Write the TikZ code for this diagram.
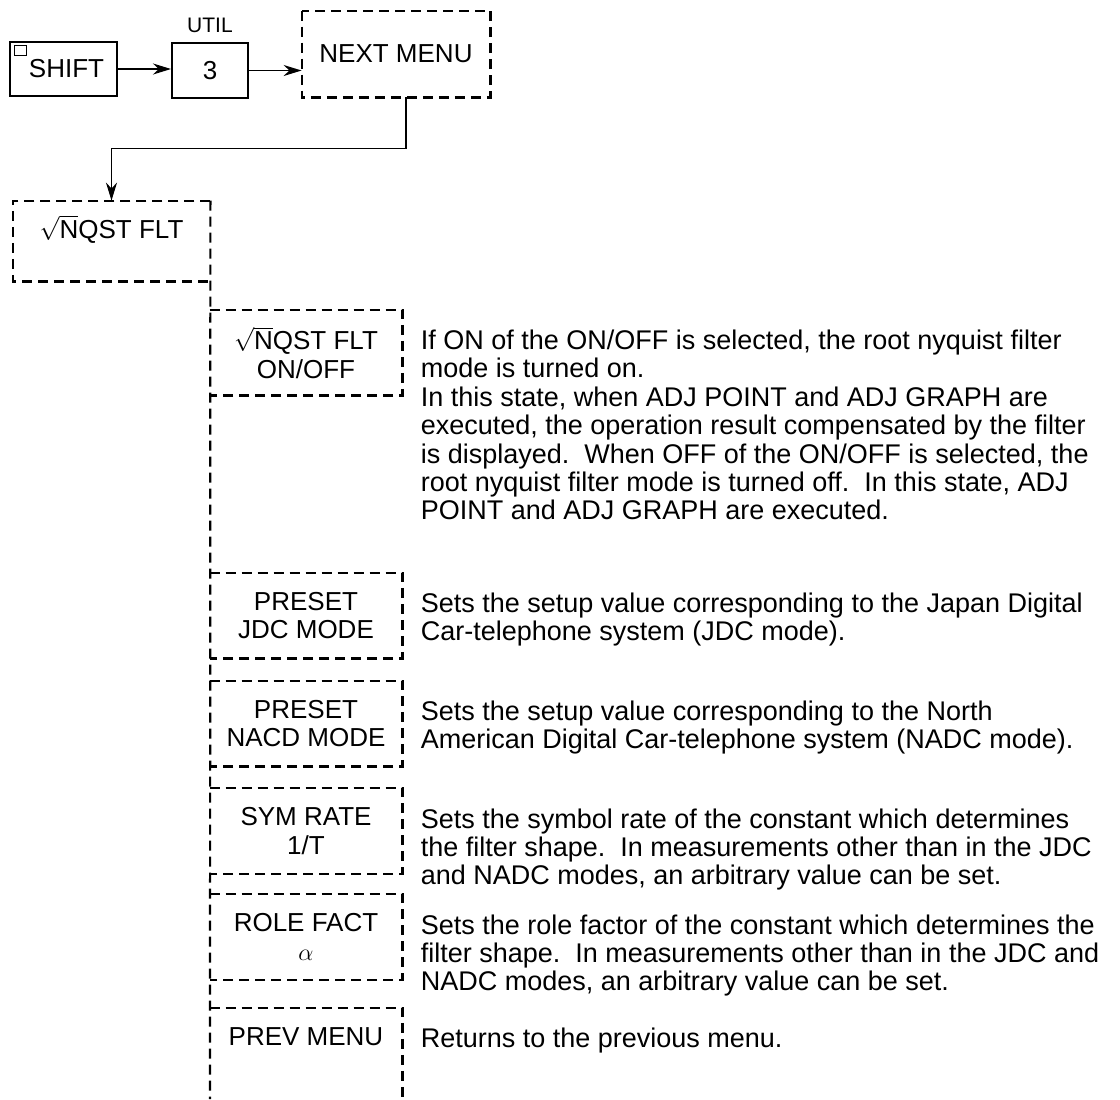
\documentclass[tikz,border=0pt]{standalone}
\usepackage{fontspec}
\setmainfont{Liberation Sans}
\usetikzlibrary{arrows.meta,calc,positioning}
\tikzset{
  keybox/.style={draw, line width=1pt, inner sep=0pt, minimum height=27pt},
  menu/.style={inner sep=0pt, minimum width=96pt, minimum height=42.5pt, align=center},
  dbox/.style={dash pattern=on 5pt off 3pt, line width=1.1pt},
  desc/.style={align=left, inner sep=0pt, anchor=north west, font=\fontsize{13.5}{14.2}\selectfont},
  arr/.style={-{Stealth[length=9pt,width=5.5pt]}, line width=0.9pt}
}
\newcommand{\rootmark}{$\sqrt{\mbox{N}}$}
\begin{document}
\begin{tikzpicture}[x=0.5pt,y=-0.5pt,font=\fontsize{13}{14.2}\selectfont]
\useasboundingbox (0,0) rectangle (1120,1099);
\coordinate (bot) at (210,1099);
% key sequence
\node[keybox, line width=1.4pt, minimum width=53.5pt] (shift) at (63.5,69) {\hspace*{3pt}SHIFT};
\draw[line width=0.7pt] ([xshift=3pt,yshift=-2.5pt]shift.north west) rectangle ++(12,10);
\node[keybox, minimum width=38pt, minimum height=27.5pt] (key3) at (210,70.5) {3};
\node[above=1pt of key3, font=\fontsize{10.5}{12}\selectfont] (util) {UTIL};
\node[menu, minimum width=94pt, minimum height=43pt] (next) at (396,54) {NEXT MENU};
\draw[dbox] (next.north west) rectangle (next.south east);
\draw[arr] (shift.east) -- (shift.east -| key3.west);
\draw[arr] (key3.east) -- (key3.east -| next.west);
% first menu level
\node[menu, minimum width=98.5pt, minimum height=40pt] (nqst) at (111.5,241) {\rootmark QST FLT\\ \mbox{}};
\draw[dbox] (nqst.north east) -- (nqst.north west) -- (nqst.south west) -- (nqst.south east);
\draw[arr] ([xshift=5pt]next.south) -- ++(0,51) -| (nqst.north);
\draw[dbox] (nqst.north east) -- (bot);
% soft keys
\node[menu] (onoff) at (306,352.5) {\rootmark QST FLT\\ON/OFF};
\node[menu] (jdc) at (306,615.5) {PRESET\\JDC MODE};
\node[menu] (nacd) at (306,723.5) {PRESET\\NACD MODE};
\node[menu] (sym) at (306,831) {SYM RATE\\1/T};
\node[menu] (role) at (306,937) {ROLE FACT\\$\alpha$};
\node[menu] (prev) at (306,1050.5) {PREV MENU\\ \mbox{}};
\foreach \k in {onoff,jdc,nacd,sym,role}
  \draw[dbox] (\k.north west) -- (\k.north east) -- (\k.south east) -- (\k.south west);
\draw[dbox] (prev.north west) -- (prev.north east) -- (prev.north east |- bot);
% descriptions
\node[desc] (onoffd) at ([xshift=9pt,yshift=-10pt]onoff.north east) {If ON of the ON/OFF is selected, the root nyquist filter\\mode is turned on.\\In this state, when ADJ POINT and ADJ GRAPH are\\executed, the operation result compensated by the filter\\is displayed.\ \ When OFF of the ON/OFF is selected, the\\root nyquist filter mode is turned off.\ \ In this state, ADJ\\POINT and ADJ GRAPH are executed.};
\node[desc] (jdcd) at ([xshift=9pt,yshift=-10pt]jdc.north east) {Sets the setup value corresponding to the Japan Digital\\Car-telephone system (JDC mode).};
\node[desc] (nacdd) at ([xshift=9pt,yshift=-10pt]nacd.north east) {Sets the setup value corresponding to the North\\American Digital Car-telephone system (NADC mode).};
\node[desc] (symd) at ([xshift=9pt,yshift=-10pt]sym.north east) {Sets the symbol rate of the constant which determines\\the filter shape.\ \ In measurements other than in the JDC\\and NADC modes, an arbitrary value can be set.};
\node[desc] (roled) at ([xshift=9pt,yshift=-10pt]role.north east) {Sets the role factor of the constant which determines the\\filter shape.\ \ In measurements other than in the JDC and\\NADC modes, an arbitrary value can be set.};
\node[desc] (prevd) at ([xshift=9pt,yshift=-10pt]prev.north east) {Returns to the previous menu.};
\end{tikzpicture}
\end{document}
